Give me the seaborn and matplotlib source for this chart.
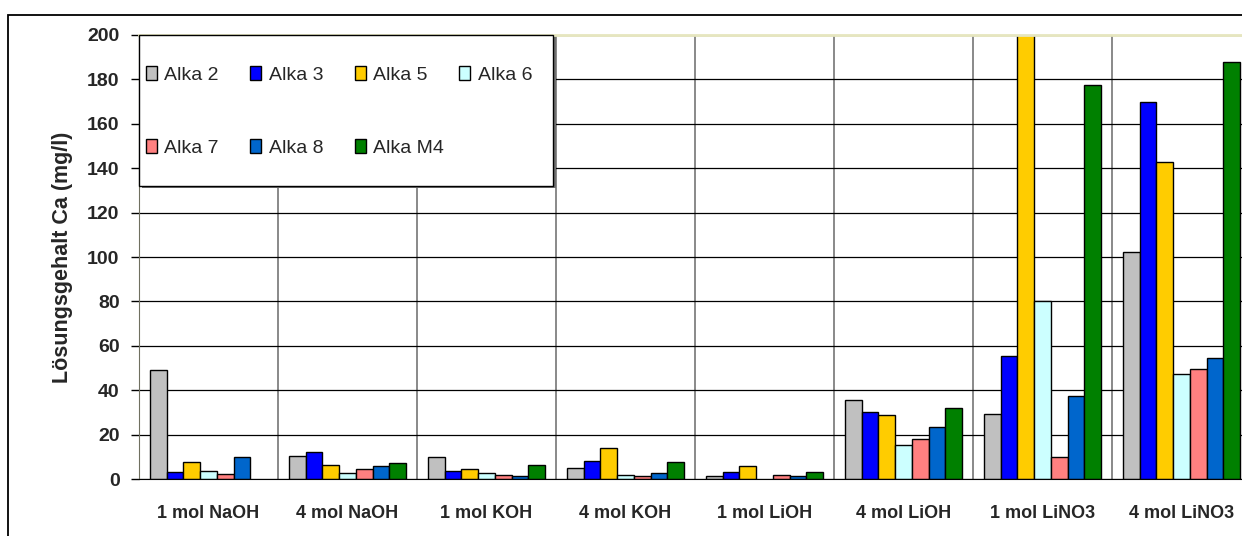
import numpy as np
import pandas as pd
import seaborn as sns
import matplotlib.pyplot as plt
from matplotlib.patches import Rectangle

# data (mg/l); NaN = no bar
categories = ["1 mol NaOH", "4 mol NaOH", "1 mol KOH", "4 mol KOH",
              "1 mol LiOH", "4 mol LiOH", "1 mol LiNO3", "4 mol LiNO3"]
series = ["Alka 2", "Alka 3", "Alka 5", "Alka 6", "Alka 7", "Alka 8", "Alka M4"]

alka2 = [49.0, 10.3, 10.0, 5.0, 1.3, 35.5, 29.2, 102.3]
alka3 = [3.0, 12.0, 3.7, 8.2, 3.1, 30.0, 55.4, 169.8]
alka5 = [7.5, 6.3, 4.4, 14.0, 5.8, 29.0, 230.0, 143.0]
alka6 = [3.7, 2.5, 2.5, 1.8, np.nan, 15.3, 80.0, 47.4]
alka7 = [2.2, 4.4, 1.8, 1.3, 1.8, 17.8, 10.0, 49.5]
alka8 = [10.0, 5.8, 1.3, 2.5, 1.3, 23.5, 37.2, 54.6]
alkam4 = [np.nan, 7.0, 6.3, 7.5, 3.1, 31.8, 177.5, 187.7]

colors = ["#C0C0C0", "#0000FF", "#FFCC00", "#CCFFFF", "#FF8080", "#0066CC", "#008000"]

rows = []
for name, vals in zip(series, [alka2, alka3, alka5, alka6, alka7, alka8, alkam4]):
    for cat, v in zip(categories, vals):
        rows.append({"Kategorie": cat, "Probe": name, "Ca": v})
df = pd.DataFrame(rows)

sns.set_style("white")
plt.rcParams['font.family'] = ['Liberation Sans', 'DejaVu Sans']

fig = plt.figure(figsize=(12.42, 5.36), dpi=100)
ax = fig.add_axes([139 / 1242, 57 / 536, (1251 - 139) / 1242, 444 / 536])

# outer chart frame (cut off at right/bottom like the reference)
fig.patches.append(Rectangle((8 / 1242, -0.1), 1.2, (536 - 15) / 536 + 0.1,
                             transform=fig.transFigure, fill=False,
                             edgecolor="black", linewidth=1.3, zorder=0))

sns.barplot(data=df, x="Kategorie", y="Ca", hue="Probe", order=categories,
            hue_order=series, palette=colors, width=0.84, gap=0,
            edgecolor="black", linewidth=1.0, errorbar=None, saturation=1, ax=ax)

ax.set_ylim(0, 200)
ax.set_xlim(-0.5, len(categories) - 0.5)
ax.set_yticks(range(0, 201, 20))
ax.set_yticklabels([str(v) for v in range(0, 201, 20)], fontweight="bold", fontsize=14)
ax.set_xticks(range(len(categories)))
ax.set_xticklabels(categories, fontweight="bold", fontsize=13)
ax.set_xticks(np.arange(-0.5, len(categories)), minor=True)
ax.tick_params(axis="x", which="major", length=0, pad=19)
ax.tick_params(axis="x", which="minor", length=7, width=1, color="#555555", direction="out")
ax.tick_params(axis="y", length=6, width=1, color="black", direction="out", pad=8, left=True)

ax.grid(axis="y", color="black", linewidth=0.9)
ax.grid(axis="x", which="minor", color="#808080", linewidth=1.3)
ax.set_axisbelow(True)

ax.spines["left"].set_color("#707060")
ax.spines["bottom"].set_color("black")
ax.spines["top"].set_color("#e6e6bf")
ax.spines["top"].set_linewidth(2)
ax.spines["right"].set_visible(False)

ax.set_xlabel("")
ax.set_ylabel("Lösungsgehalt Ca (mg/l)", fontweight="bold", fontsize=15.5, labelpad=10)

# legend: white box with a slight shadow, two rows of entries
handles, labels = ax.get_legend_handles_labels()
ax.get_legend().remove()
box_w = (553 - 139) / 1112
box_h = (186 - 35) / 444
ax.add_patch(Rectangle((0.0025, 1 - box_h - 0.004), box_w, box_h, transform=ax.transAxes,
                       facecolor="#707070", edgecolor="none", zorder=4, clip_on=False))
ax.add_patch(Rectangle((0, 1 - box_h), box_w, box_h, transform=ax.transAxes,
                       facecolor="white", edgecolor="black", linewidth=1.0,
                       zorder=4.1, clip_on=False))

leg_kw = dict(loc="center left", fontsize=14, frameon=False, handlelength=0.55,
              handleheight=0.7, handletextpad=0.4, columnspacing=1.62,
              borderpad=0, borderaxespad=0)
leg1 = ax.legend(handles[:4], labels[:4], ncol=4,
                 bbox_to_anchor=((146 - 139) / 1112, (479 - 75) / 444), **leg_kw)
ax.add_artist(leg1)
leg2 = ax.legend(handles[4:], labels[4:], ncol=3,
                 bbox_to_anchor=((146 - 139) / 1112, (479 - 148) / 444), **leg_kw)
for leg in (leg1, leg2):
    leg.set_zorder(5)
    for h in leg.legend_handles:
        h.set_edgecolor("black")
        h.set_linewidth(1.0)

fig.savefig("out.png", dpi=100)
